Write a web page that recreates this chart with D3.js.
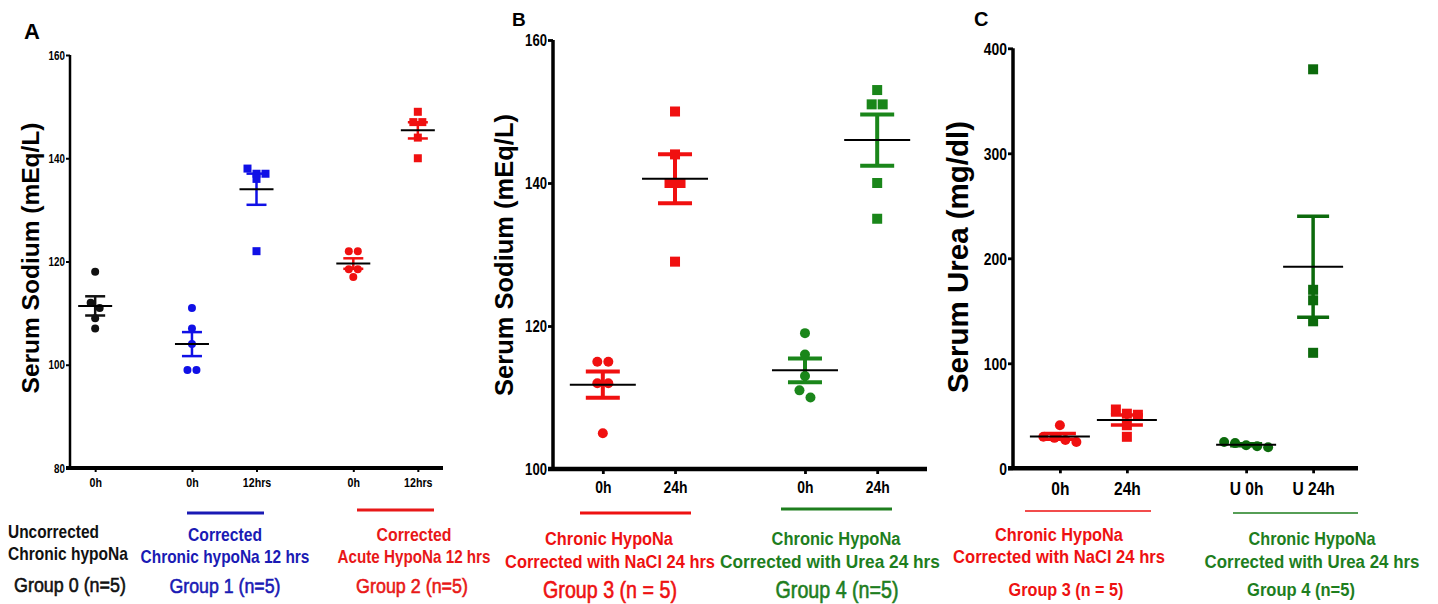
<!DOCTYPE html>
<html><head><meta charset="utf-8">
<script src="https://cdn.jsdelivr.net/npm/d3@7"></script>
<style>
body{margin:0;background:#fff;}
svg text{font-family:"Liberation Sans Narrow","Arial Narrow","Liberation Sans",Arial,sans-serif;}
</style></head><body><svg id="c" width="1438" height="604"></svg>
<script>
// ---------- DATA ----------
// Panel A : Serum Sodium (mEq/L)
const aTickLabels = ["0h","0h","12hrs","0h","12hrs"];
const aG0_0h  = [118,112,111,109,107];
const aG1_0h  = [111,107,104,99,99];
const aG1_12h = [138,137,137,136,122];
const aG2_0h  = [122,122,118.5,118.5,117];
const aG2_12h = [149,147,147,144,140];
const aYTicks = [80,100,120,140,160];
// Panel B : Serum Sodium (mEq/L)
const bTickLabels = ["0h","24h","0h","24h"];
const bG3_0h  = [115,115,112,112,105];
const bG3_24h = [150,144,140,140,129];
const bG4_0h  = [119,116,113,111,110];
const bG4_24h = [153,151,151,140,135];
const bYTicks = [100,120,140,160];
// Panel C : Serum Urea (mg/dl)
const cTickLabels = ["0h","24h","U 0h","U 24h"];
const cG3_0h  = [41,30,29,27,25];
const cG3_24h = [56,52,51,41,30];
const cG4_0h  = [25,24,22,21,20];
const cG4_24h = [380,170,160,140,110];
const cYTicks = [0,100,200,300,400];

const BLACK="#111", BLUE="#1010e6", RED="#f01010", GREEN="#1a861a", DGREEN="#0c6a0c";
const NARROW = 0.82;

const svg = d3.select("#c");

function beeswarm(vals, y, d){
  const pts = vals.map(v=>({v, py:y(v)})).sort((a,b)=>a.py-b.py);
  const rows=[]; let cur=[];
  pts.forEach(p=>{
    if(cur.length && p.py - cur[0].py >= d*0.85){rows.push(cur); cur=[];}
    cur.push(p);
  });
  if(cur.length) rows.push(cur);
  rows.forEach(r=>r.forEach((p,i)=>{p.dx=(i-(r.length-1)/2)*d;}));
  return pts;
}

function panel(cfg){
  const g = svg.append("g");
  const y = d3.scaleLinear().domain(cfg.yDomain).range([cfg.yBot, cfg.yTop]);
  const x = d3.scaleLinear().domain(cfg.xDomain).range([cfg.x0, cfg.x1]);
  const ya = d3.axisLeft(y).tickValues(cfg.yTicks).tickSize(cfg.tickLen).tickPadding(1).tickFormat(d3.format("d"));
  const yG = g.append("g").attr("transform",`translate(${cfg.x0},0)`).call(ya);
  yG.select(".domain").attr("stroke","#000").attr("stroke-width",cfg.yAxisW).attr("d",`M0,${cfg.yTop}V${cfg.yBot}`);
  yG.selectAll(".tick line").attr("stroke","#000").attr("stroke-width",cfg.yAxisW*0.8);
  yG.selectAll(".tick text").attr("font-size",cfg.yTickFont).attr("font-weight","bold").attr("fill","#000").attr("dy","0.35em")
    .attr("x",null).attr("transform",`translate(${-cfg.tickLen-1},0) scale(${NARROW},1)`);
  const xa = d3.axisBottom(x).tickValues(cfg.slots).tickSize(cfg.tickLen).tickPadding(cfg.xTickPad).tickFormat((d,i)=>cfg.tickLabels[i]);
  const xG = g.append("g").attr("transform",`translate(0,${cfg.yBot})`).call(xa);
  xG.select(".domain").attr("stroke","#000").attr("stroke-width",cfg.xAxisW).attr("d",`M${cfg.x0-cfg.tickLen},0H${cfg.x1}`);
  xG.selectAll(".tick line").attr("stroke","#000").attr("stroke-width",cfg.yAxisW*0.8);
  xG.selectAll(".tick text").attr("font-size",cfg.xTickFont).attr("font-weight","bold").attr("fill","#000")
    .attr("transform",`scale(${NARROW},1)`);

  cfg.groups.forEach((grp,i)=>{
    const cx = x(cfg.slots[i]);
    const d = grp.shape==="circle" ? cfg.r*2+1 : cfg.sq+1;
    const pts = beeswarm(grp.vals, y, d);
    pts.forEach(p=>{
      if(grp.shape==="circle"){
        g.append("circle").attr("cx",cx+p.dx).attr("cy",p.py).attr("r",cfg.r).attr("fill",grp.color);
      } else {
        g.append("rect").attr("x",cx+p.dx-cfg.sq/2).attr("y",p.py-cfg.sq/2).attr("width",cfg.sq).attr("height",cfg.sq).attr("fill",grp.color);
      }
    });
    const m = d3.mean(grp.vals), sem = d3.deviation(grp.vals)/Math.sqrt(grp.vals.length);
    const eg = g.append("g").attr("stroke",grp.color).attr("stroke-width",cfg.errW);
    eg.append("line").attr("x1",cx).attr("x2",cx).attr("y1",y(m+sem)).attr("y2",y(m-sem));
    [m+sem,m-sem].forEach(v=>eg.append("line").attr("x1",cx-cfg.capW/2).attr("x2",cx+cfg.capW/2).attr("y1",y(v)).attr("y2",y(v)));
    g.append("line").attr("x1",cx-cfg.meanW/2).attr("x2",cx+cfg.meanW/2).attr("y1",y(m)).attr("y2",y(m)).attr("stroke","#000").attr("stroke-width",cfg.meanStroke);
  });
  g.append("text").attr("transform",`translate(${cfg.ylabX},${cfg.ylabY}) rotate(-90)`).attr("text-anchor","middle")
    .attr("dominant-baseline","central").style("font-family","'Liberation Sans',Arial,sans-serif").attr("font-weight","bold")
    .attr("font-size",cfg.ylabFont).text(cfg.ylab);
  g.append("text").attr("x",cfg.letterX).attr("y",cfg.letterY).style("font-family","'Liberation Sans',Arial,sans-serif").attr("font-weight","bold").attr("font-size",cfg.letterFont).text(cfg.letter);
}

panel({letter:"A",letterX:24,letterY:39,letterFont:22,
  x0:70,x1:443,yTop:55,yBot:468,yDomain:[80,160],yTicks:aYTicks,slots:[0,1.5,2.5,4,5],xDomain:[-0.39,5.39],
  tickLabels:aTickLabels,tickLen:4,xTickPad:6,yAxisW:2.5,xAxisW:4,yTickFont:12,xTickFont:13,
  r:4,sq:8,errW:2.5,capW:20,meanW:34,meanStroke:2,
  ylab:"Serum Sodium (mEq/L)",ylabX:30,ylabY:258,ylabFont:24.5,
  groups:[{vals:aG0_0h,shape:"circle",color:BLACK},{vals:aG1_0h,shape:"circle",color:BLUE},{vals:aG1_12h,shape:"square",color:BLUE},
          {vals:aG2_0h,shape:"circle",color:RED},{vals:aG2_12h,shape:"square",color:RED}]});

panel({letter:"B",letterX:512,letterY:26,letterFont:19,
  x0:553,x1:927,yTop:40,yBot:469,yDomain:[100,160],yTicks:bYTicks,slots:[0,1,2.8,3.8],xDomain:[-0.69,4.49],
  tickLabels:bTickLabels,tickLen:5,xTickPad:7,yAxisW:3.5,xAxisW:4.5,yTickFont:16,xTickFont:17,
  r:5,sq:10,errW:4,capW:34,meanW:66,meanStroke:2,
  ylab:"Serum Sodium (mEq/L)",ylabX:504,ylabY:255,ylabFont:25.5,
  groups:[{vals:bG3_0h,shape:"circle",color:RED},{vals:bG3_24h,shape:"square",color:RED},
          {vals:bG4_0h,shape:"circle",color:GREEN},{vals:bG4_24h,shape:"square",color:GREEN}]});

panel({letter:"C",letterX:974,letterY:26,letterFont:20,
  x0:1013,x1:1358,yTop:48.3,yBot:468.3,yDomain:[0,400],yTicks:cYTicks,slots:[0,1,2.78,3.78],xDomain:[-0.70,4.45],
  tickLabels:cTickLabels,tickLen:5,xTickPad:8,yAxisW:3.5,xAxisW:4.5,yTickFont:17,xTickFont:19,
  r:5,sq:10,errW:3.5,capW:32,meanW:60,meanStroke:2,
  ylab:"Serum Urea (mg/dl)",ylabX:957,ylabY:257,ylabFont:29.5,
  groups:[{vals:cG3_0h,shape:"circle",color:RED},{vals:cG3_24h,shape:"square",color:RED},
          {vals:cG4_0h,shape:"circle",color:DGREEN},{vals:cG4_24h,shape:"square",color:DGREEN}]});

// ---------- group captions ----------
const capText = [
  ["Uncorrected","Chronic hypoNa","Group 0 (n=5)"],
  ["Corrected","Chronic hypoNa 12 hrs","Group 1 (n=5)"],
  ["Corrected","Acute HypoNa 12 hrs","Group 2 (n=5)"],
  ["Chronic HypoNa","Corrected with NaCl 24 hrs","Group 3 (n = 5)"],
  ["Chronic HypoNa","Corrected with Urea 24 hrs","Group 4 (n=5)"],
  ["Chronic HypoNa","Corrected with NaCl 24 hrs","Group 3 (n = 5)"],
  ["Chronic HypoNa","Corrected with Urea 24 hrs","Group 4 (n=5)"]
];
// layout: x positions (left or centre), baselines, target widths, font sizes
const capLayout = [
  {color:"#111",   anchor:"start", xs:[8,8,14],          ys:[538,560,592], ws:[91,120,112], fs:[18,18,21], bold:[1,1,0]},
  {color:"#1a1ab4",anchor:"middle",xs:[225,225,225],     ys:[541,563,593], ws:[74,169,111], fs:[18,18,21], bold:[1,1,0], bar:[187,264,513]},
  {color:"#e81818",anchor:"middle",xs:[414,414,412],     ys:[541,563,593], ws:[75,153,112], fs:[18,18,21], bold:[1,1,0], bar:[357,434,510]},
  {color:"#ee1111",anchor:"middle",xs:[609,610,610],     ys:[545,568,598], ws:[128,210,134],fs:[19,19,23], bold:[1,1,0], bar:[580,691,513]},
  {color:"#1e7e1e",anchor:"middle",xs:[836,830,837],     ys:[545,568,598], ws:[129,220,123],fs:[19,19,23], bold:[1,1,0], bar:[781,892,509]},
  {color:"#ee1111",anchor:"middle",xs:[1059,1059,1066],  ys:[541,563,596], ws:[128,212,115],fs:[19,19,18], bold:[1,1,1], bar:[1025,1151,511], thin:true},
  {color:"#1e7e1e",anchor:"middle",xs:[1312,1312,1301],  ys:[545,568,596], ws:[127,215,108],fs:[19,19,18], bold:[1,1,1], bar:[1233,1358,513], thin:true}
];
capText.forEach((lines,k)=>{
  const c = capLayout[k];
  if(c.bar) svg.append("line").attr("x1",c.bar[0]).attr("x2",c.bar[1]).attr("y1",c.bar[2]).attr("y2",c.bar[2]).attr("stroke",c.color).attr("stroke-width",c.thin?1.5:3);
  lines.forEach((t,i)=>{
    const el = svg.append("text").attr("text-anchor",c.anchor).attr("font-weight",c.bold[i]?"bold":"normal")
      .attr("font-size",c.fs[i]).attr("fill",c.color).text(t);
    if(!c.bold[i]) el.attr("stroke",c.color).attr("stroke-width",0.6);
    const w = el.node().getComputedTextLength();
    const s = c.ws[i]/w;
    el.attr("transform",`translate(${c.xs[i]},${c.ys[i]}) scale(${s},1)`);
  });
});
</script></body></html>
